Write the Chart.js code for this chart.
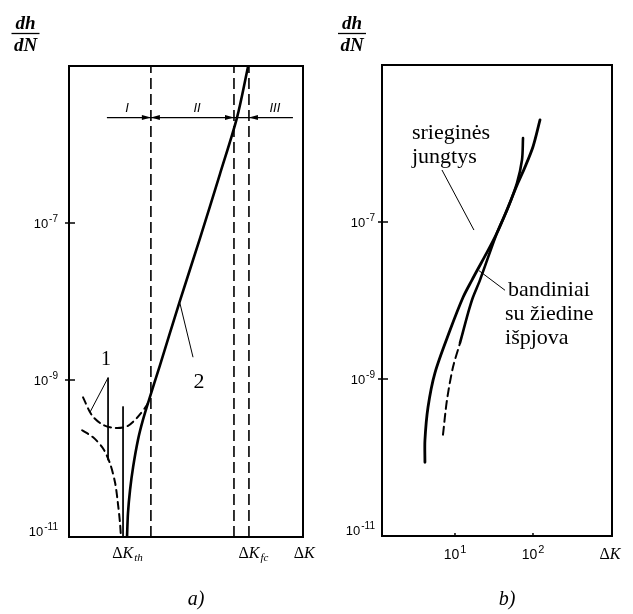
<!DOCTYPE html>
<html lang="lt">
<head>
<meta charset="UTF-8">
<title>dh/dN priklausomybė nuo ΔK</title>
<script src="https://cdn.jsdelivr.net/npm/chart.js@4.4.1/dist/chart.umd.min.js"></script>
<style>
  body { margin: 0; background: #fff; }
  #wrap { position: relative; width: 633px; height: 614px; }
  canvas { position: absolute; top: 0; }
</style>
</head>
<body>
<div id="wrap">
  <canvas id="chartA" width="316" height="614" style="left:0"></canvas>
  <canvas id="chartB" width="317" height="614" style="left:316px"></canvas>
</div>
<script>
// ---- a) schema (x – santykinė ΔK skalė 0..100, y – log) ----
const a_kreive2_x = [24.8, 25.2, 26.1, 27.4, 29.5, 31.6, 34.2, 38.9, 47.4, 56.0, 64.5, 71.8, 76.5];
const a_kreive2_y = [1e-11, 2.0e-11, 4.0e-11, 7.8e-11, 1.74e-10, 3.1e-10, 5.6e-10, 1.55e-9, 1.02e-8, 6.4e-8, 4.2e-7, 2.2e-6, 9.8e-6];
const a_kreive1v_x = [6.0, 9.8, 14.5, 19.7, 24.8, 29.1, 33.3, 34.2];   // viršutinė punktyrinė
const a_kreive1v_y = [6.0e-10, 3.55e-10, 2.69e-10, 2.45e-10, 2.57e-10, 3.31e-10, 4.79e-10, 5.6e-10];
const a_kreive1a_x = [5.6, 10.3, 14.5, 17.5, 19.7, 20.9, 21.8, 22.2];  // apatinė punktyrinė
const a_kreive1a_y = [2.29e-10, 1.86e-10, 1.35e-10, 8.7e-11, 4.9e-11, 2.69e-11, 1.51e-11, 1e-11];
const a_ribos = [35.0, 70.5, 76.9];           // punktyrinės vertikalės (I|II|III)
const a_slenkstis = 23.1;                     // plona vertikalė prie ΔK_th
const a_zonos = ['I', 'II', 'III'];
const a_zonu_x = [24.8, 54.7, 88.0];
const a_ivardai = ['ΔK', 'th', 'ΔK', 'fc'];

// ---- b) eksperimentas (log-log) ----
const b_sriegines_x = [4.12, 4.12, 4.51, 5.54, 8.63, 12.7, 16.5, 34.5, 64.3, 78.9, 100, 123];
const b_sriegines_y = [8.7e-11, 1.66e-10, 4.37e-10, 1.2e-9, 4.17e-9, 1.1e-8, 1.82e-8, 7.24e-8, 3.16e-7, 5.0e-7, 9.1e-7, 2.0e-6];
const b_bandiniai_x = [7.02, 7.89, 9.42, 11.6, 14.7, 17.0, 20.9, 34.5, 47.7, 62.4, 72.3, 74.5];
const b_bandiniai_y = [1.95e-10, 5.37e-10, 1.41e-9, 2.88e-9, 6.9e-9, 1.1e-8, 1.82e-8, 7.24e-8, 1.51e-7, 3.16e-7, 6.17e-7, 1.17e-6];
const b_punktyras_iki = 3;                    // bandinių kreivės punktyrinė dalis (taškų indeksas)
const b_x_zymes = [10, 100];
const y_zymes = [1e-7, 1e-9, 1e-11];

const SANS = '"Liberation Sans", Arial, sans-serif';
const SERIF = '"Liberation Serif", "Times New Roman", serif';

function taskai(xs, ys) { return xs.map((x, i) => ({ x: x, y: ys[i] })); }

function kreive(data, w, dash) {
  return { data: data, borderColor: '#000', borderWidth: w, pointRadius: 0,
           tension: 0.3, fill: false, borderDash: dash || [], borderCapStyle: 'round' };
}
function linija(data, w, dash) {
  return { data: data, borderColor: '#000', borderWidth: w, pointRadius: 0,
           tension: 0, fill: false, borderDash: dash || [] };
}

// 10 su laipsniu
function laipsnis(ctx, exp, x, y, align, size) {
  const big = size + 'px ' + SANS, small = Math.round(size * 0.75) + 'px ' + SANS;
  ctx.font = big; const w1 = ctx.measureText('10').width;
  ctx.font = small; const w2 = ctx.measureText(exp).width;
  const w = w1 + w2 + 1;
  const x0 = align === 'right' ? x - w : align === 'center' ? x - w / 2 : x;
  ctx.textAlign = 'left'; ctx.textBaseline = 'alphabetic';
  ctx.font = big; ctx.fillText('10', x0, y);
  ctx.font = small; ctx.fillText(exp, x0 + w1 + 1, y - size * 0.42);
}

// ΔK su indeksu
function deltaK(ctx, x, y, sub) {
  const f1 = '16px ' + SERIF, f2 = 'italic 16px ' + SERIF, f3 = 'italic 11px ' + SERIF;
  ctx.font = f1; const wd = ctx.measureText('Δ').width;
  ctx.font = f2; const wk = ctx.measureText('K').width;
  ctx.font = f3; const ws = sub ? ctx.measureText(sub).width : 0;
  let x0 = x - (wd + wk + ws) / 2;
  ctx.textAlign = 'left'; ctx.textBaseline = 'alphabetic';
  ctx.font = f1; ctx.fillText('Δ', x0, y);
  ctx.font = f2; ctx.fillText('K', x0 + wd, y);
  if (sub) { ctx.font = f3; ctx.fillText(sub, x0 + wd + wk + 1, y + 3); }
}

function trupmena(ctx, cx) {
  ctx.fillStyle = '#000'; ctx.textAlign = 'center'; ctx.textBaseline = 'alphabetic';
  ctx.font = 'italic bold 19px ' + SERIF;
  ctx.fillText('dh', cx, 29);
  ctx.fillText('dN', cx, 51);
  ctx.lineWidth = 1.3; ctx.beginPath(); ctx.moveTo(cx - 14, 33.5); ctx.lineTo(cx + 14, 33.5); ctx.stroke();
}

function remelis(chart, yLabelGap) {
  const ctx = chart.ctx, a = chart.chartArea, sy = chart.scales.y;
  ctx.save();
  ctx.strokeStyle = '#000'; ctx.fillStyle = '#000';
  ctx.lineWidth = 2;
  ctx.strokeRect(a.left, a.top, a.right - a.left, a.bottom - a.top);
  y_zymes.forEach(v => {
    const y = sy.getPixelForValue(v);
    if (v > 1e-11) {
      ctx.lineWidth = 1.5; ctx.beginPath(); ctx.moveTo(a.left - 4, y); ctx.lineTo(a.left + 6, y); ctx.stroke();
    }
    const exp = '-' + Math.round(-Math.log10(v));
    const yy = v > 1e-11 ? y : y - 6;
    laipsnis(ctx, exp, a.left - yLabelGap, yy + 4.5, 'right', 13);
  });
  ctx.restore();
}

function rodykle(ctx, x, y, dir) {
  ctx.beginPath();
  ctx.moveTo(x, y);
  ctx.lineTo(x - dir * 9, y - 2.5);
  ctx.lineTo(x - dir * 9, y + 2.5);
  ctx.closePath(); ctx.fill();
}

const A_ROD_Y = 2.2e-6;

const uzrasaiA = {
  id: 'uzrasaiA',
  afterDraw(chart) {
    const ctx = chart.ctx, a = chart.chartArea, sx = chart.scales.x, sy = chart.scales.y;
    remelis(chart, 11);
    ctx.save();
    ctx.fillStyle = '#000'; ctx.strokeStyle = '#000';
    // rodyklės ties ribomis
    const yr = sy.getPixelForValue(A_ROD_Y);
    rodykle(ctx, sx.getPixelForValue(a_ribos[0]), yr, 1);
    rodykle(ctx, sx.getPixelForValue(a_ribos[0]), yr, -1);
    rodykle(ctx, sx.getPixelForValue(a_ribos[1]), yr, 1);
    rodykle(ctx, sx.getPixelForValue(a_ribos[2]), yr, -1);
    // zonų numeriai
    ctx.font = 'italic 13px ' + SANS; ctx.textAlign = 'center'; ctx.textBaseline = 'alphabetic';
    a_zonos.forEach((z, i) => ctx.fillText(z, sx.getPixelForValue(a_zonu_x[i]), sy.getPixelForValue(2.6e-6)));
    // kreivių numeriai
    ctx.font = '20px ' + SERIF;
    ctx.fillText('1', sx.getPixelForValue(15.8), sy.getPixelForValue(1.55e-9));
    ctx.font = '22px ' + SERIF;
    ctx.fillText('2', sx.getPixelForValue(55.6), sy.getPixelForValue(7.9e-10));
    // x ašies užrašai
    const yb = a.bottom + 21;
    deltaK(ctx, sx.getPixelForValue(24.8), yb, a_ivardai[1]);
    deltaK(ctx, sx.getPixelForValue(78.6), yb, a_ivardai[3]);
    deltaK(ctx, sx.getPixelForValue(100.5), yb, '');
    trupmena(ctx, a.left - 43.5);
    ctx.font = 'italic 20px ' + SERIF; ctx.textAlign = 'center';
    ctx.fillText('a)', sx.getPixelForValue(54.3), 605);
    ctx.restore();
  }
};

const uzrasaiB = {
  id: 'uzrasaiB',
  afterDraw(chart) {
    const ctx = chart.ctx, a = chart.chartArea, sx = chart.scales.x, sy = chart.scales.y;
    remelis(chart, 7);
    ctx.save();
    ctx.fillStyle = '#000'; ctx.strokeStyle = '#000';
    b_x_zymes.forEach(v => {
      const x = sx.getPixelForValue(v);
      ctx.lineWidth = 1.5; ctx.beginPath(); ctx.moveTo(x, a.bottom); ctx.lineTo(x, a.bottom - 3); ctx.stroke();
      laipsnis(ctx, String(Math.round(Math.log10(v))), x, a.bottom + 23, 'center', 14);
    });
    deltaK(ctx, a.right - 2, a.bottom + 23, '');
    ctx.font = '22px ' + SERIF; ctx.textAlign = 'left'; ctx.textBaseline = 'alphabetic';
    ctx.fillText('srieginės', sx.getPixelForValue(2.81), sy.getPixelForValue(1.15e-6));
    ctx.fillText('jungtys', sx.getPixelForValue(2.81), sy.getPixelForValue(5.6e-7));
    ctx.fillText('bandiniai', sx.getPixelForValue(47.7), sy.getPixelForValue(1.14e-8));
    ctx.fillText('su žiedine', sx.getPixelForValue(43.8), sy.getPixelForValue(5.6e-9));
    ctx.fillText('išpjova', sx.getPixelForValue(43.8), sy.getPixelForValue(2.8e-9));
    trupmena(ctx, a.left - 30);
    ctx.font = 'italic 20px ' + SERIF; ctx.textAlign = 'center';
    ctx.fillText('b)', sx.getPixelForValue(10 ** 1.667), 605);
    ctx.restore();
  }
};

const bendra = {
  responsive: false,
  animation: false,
  events: [],
  plugins: { legend: { display: false }, tooltip: { enabled: false } }
};

new Chart(document.getElementById('chartA'), {
  type: 'line',
  data: {
    datasets: [
      kreive(taskai(a_kreive2_x, a_kreive2_y), 2.6),
      kreive(taskai(a_kreive1v_x, a_kreive1v_y), 2, [7, 5]),
      kreive(taskai(a_kreive1a_x, a_kreive1a_y), 2, [7, 5]),
      ...a_ribos.map(x => linija([{ x: x, y: 1e-11 }, { x: x, y: 1e-5 }], 1.6, [11, 5])),
      linija([{ x: a_slenkstis, y: 4.6e-10 }, { x: a_slenkstis, y: 1e-11 }], 1),
      linija([{ x: 9.0, y: 3.9e-10 }, { x: 16.7, y: 1.07e-9 }, { x: 16.7, y: 9.5e-11 }], 1),
      linija([{ x: 53.0, y: 1.95e-9 }, { x: 47.4, y: 9.5e-9 }], 1),
      linija([{ x: 16.2, y: A_ROD_Y }, { x: 95.7, y: A_ROD_Y }], 1.3)
    ]
  },
  options: Object.assign({}, bendra, {
    layout: { padding: { left: 69, top: 66, right: 13, bottom: 77 } },
    scales: {
      x: { type: 'linear', min: 0, max: 100, display: false },
      y: { type: 'logarithmic', min: 1e-11, max: 1e-5, display: false }
    }
  }),
  plugins: [uzrasaiA]
});

const bandiniaiDs = kreive(taskai(b_bandiniai_x, b_bandiniai_y), 2.6);
bandiniaiDs.segment = { borderDash: c => c.p1DataIndex <= b_punktyras_iki ? [8, 5] : undefined,
                        borderWidth: c => c.p1DataIndex <= b_punktyras_iki ? 2 : undefined };

new Chart(document.getElementById('chartB'), {
  type: 'line',
  data: {
    datasets: [
      kreive(taskai(b_sriegines_x, b_sriegines_y), 2.8),
      bandiniaiDs,
      linija([{ x: 6.81, y: 4.6e-7 }, { x: 17.5, y: 7.9e-8 }], 1),
      linija([{ x: 43.8, y: 1.35e-8 }, { x: 20.3, y: 2.4e-8 }], 1)
    ]
  },
  options: Object.assign({}, bendra, {
    layout: { padding: { left: 66, top: 65, right: 21, bottom: 78 } },
    scales: {
      x: { type: 'logarithmic', min: 1.16, max: 1030, display: false },
      y: { type: 'logarithmic', min: 1e-11, max: 1e-5, display: false }
    }
  }),
  plugins: [uzrasaiB]
});
</script>
</body>
</html>
